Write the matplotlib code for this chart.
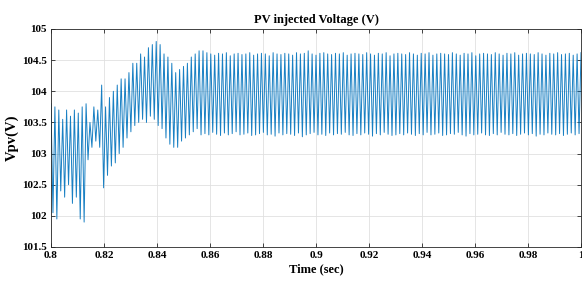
import numpy as np
import matplotlib as mpl
mpl.use("Agg")
import matplotlib.pyplot as plt

v_start = 103.8
peaks_transient = [103.75, 103.7, 103.55, 103.7, 103.6, 103.7, 103.65, 103.75, 103.8,
                   103.5, 103.75, 103.7, 104.1, 103.75, 103.9, 104.0, 104.1, 104.2, 104.2,
                   104.3, 104.45, 104.45, 104.6, 104.55, 104.7, 104.75, 104.8, 104.75, 104.6,
                   104.55, 104.45, 104.3, 104.35, 104.4, 104.45, 104.55, 104.6, 104.65, 104.65]
troughs_transient = [102.05, 101.95, 102.4, 102.3, 102.5, 102.2, 102.3, 101.95, 101.9,
                     102.9, 103.1, 103.2, 103.1, 102.45, 102.65, 102.8, 102.85, 103.0, 103.1,
                     103.25, 103.35, 103.45, 103.5, 103.55, 103.5, 103.6, 103.55, 103.45, 103.4,
                     103.25, 103.15, 103.1, 103.1, 103.2, 103.25, 103.3, 103.35, 103.4, 103.3]
peaks_steady = [104.62, 104.6, 104.58, 104.61, 104.6, 104.62, 104.57, 104.6, 104.61, 104.59,
                104.6, 104.62, 104.58, 104.6, 104.61, 104.6, 104.57, 104.62, 104.6, 104.59,
                104.61, 104.6, 104.58, 104.62, 104.6, 104.61, 104.65, 104.6, 104.58, 104.61,
                104.62, 104.6, 104.59, 104.61, 104.6, 104.62, 104.58, 104.6, 104.61, 104.6,
                104.59, 104.62, 104.6, 104.58, 104.61, 104.6, 104.62, 104.57, 104.6, 104.61,
                104.6, 104.59, 104.62, 104.6, 104.58, 104.61, 104.6, 104.62, 104.58, 104.6,
                104.61, 104.6, 104.59, 104.62, 104.6, 104.58, 104.61, 104.6, 104.62, 104.57,
                104.6, 104.61, 104.6, 104.59, 104.62, 104.6, 104.58, 104.61, 104.6, 104.62,
                104.58, 104.6, 104.61, 104.6, 104.59, 104.62, 104.6, 104.58, 104.61, 104.6,
                104.62, 104.59, 104.6, 104.61, 104.58, 104.6, 104.62]
troughs_steady = [103.32, 103.3, 103.34, 103.31, 103.29, 103.33, 103.3, 103.32, 103.35, 103.3,
                  103.31, 103.33, 103.29, 103.3, 103.32, 103.34, 103.3, 103.31, 103.28, 103.33,
                  103.3, 103.32, 103.31, 103.29, 103.33, 103.27, 103.3, 103.32, 103.34, 103.3,
                  103.31, 103.29, 103.33, 103.3, 103.32, 103.31, 103.34, 103.3, 103.29, 103.32,
                  103.3, 103.33, 103.31, 103.28, 103.32, 103.3, 103.34, 103.31, 103.29, 103.3,
                  103.32, 103.3, 103.33, 103.31, 103.29, 103.32, 103.3, 103.34, 103.3, 103.31,
                  103.33, 103.29, 103.3, 103.32, 103.31, 103.34, 103.3, 103.28, 103.32, 103.3,
                  103.31, 103.33, 103.3, 103.29, 103.32, 103.3, 103.34, 103.31, 103.3, 103.32,
                  103.29, 103.31, 103.33, 103.3, 103.32, 103.28, 103.31, 103.3, 103.33, 103.31,
                  103.3, 103.32, 103.29, 103.31, 103.33, 103.3, 103.32]
t_start, t_end = 0.8, 1.0

x_ticks = [0.8, 0.82, 0.84, 0.86, 0.88, 0.9, 0.92, 0.94, 0.96, 0.98, 1.0]
y_ticks = [101.5, 102, 102.5, 103, 103.5, 104, 104.5, 105]

# interleave trough/peak per cycle
peaks = peaks_transient + peaks_steady
troughs = troughs_transient + troughs_steady
vpv = [v_start]
for lo, hi in zip(troughs, peaks):
    vpv += [lo, hi]
t = np.linspace(t_start, t_end, len(vpv))

plt.rcParams['font.family'] = 'Liberation Serif'
plt.rcParams['font.weight'] = 'bold'

fig = plt.figure(figsize=(5.82, 2.87), dpi=100)
ax = fig.add_axes([51/582, 1 - 247/287, 530/582, 218/287])
ax.plot(t, vpv, color='#0072BD', lw=0.7, alpha=0.9)

ax.set_xlim(t_start, t_end)
ax.set_ylim(101.5, 105)
ax.set_xticks(x_ticks)
ax.set_yticks(y_ticks)
ax.set_xticklabels(['%g' % v for v in x_ticks])
ax.set_yticklabels(['%g' % v for v in y_ticks])
ax.tick_params(direction='in', length=3, width=0.6, color='#262626', labelsize=8,
               top=True, right=True, pad=3)
for lbl in ax.get_xticklabels() + ax.get_yticklabels():
    lbl.set_fontweight('bold')
ax.grid(True, color='#e0e0e0', lw=0.6)
ax.set_axisbelow(True)
for s in ax.spines.values():
    s.set_color('#262626')
    s.set_linewidth(0.6)

ax.set_title('PV injected Voltage (V)', fontsize=9, fontweight='bold', pad=4)
ax.set_xlabel('Time (sec)', fontsize=9, fontweight='bold', labelpad=2)
ax.set_ylabel('Vpv(V)', fontsize=10.5, fontweight='bold', labelpad=2)

plt.savefig('out.png', dpi=100)
